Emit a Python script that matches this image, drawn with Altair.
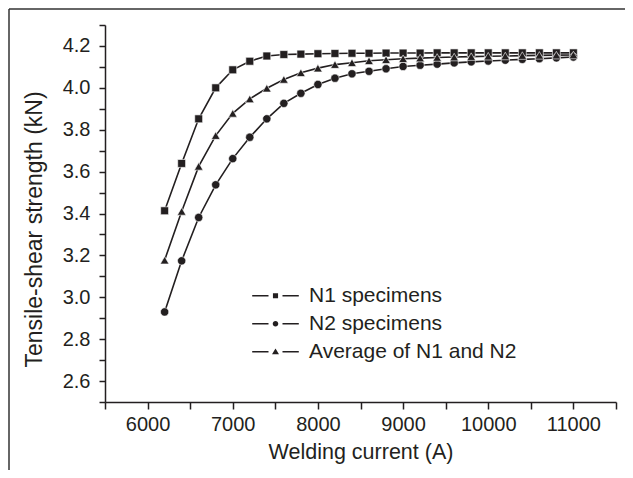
import altair as alt
import pandas as pd

# ---- data ----
currents = [6200, 6400, 6600, 6800, 7000, 7200, 7400, 7600, 7800, 8000,
            8200, 8400, 8600, 8800, 9000, 9200, 9400, 9600, 9800, 10000,
            10200, 10400, 10600, 10800, 11000]

n1 = [3.413, 3.639, 3.852, 4.000, 4.086, 4.127, 4.152, 4.159, 4.161, 4.163,
      4.164, 4.165, 4.165, 4.166, 4.166, 4.166, 4.167, 4.167, 4.167, 4.167,
      4.167, 4.167, 4.167, 4.167, 4.167]

n2 = [2.930, 3.174, 3.381, 3.537, 3.662, 3.764, 3.852, 3.926, 3.974, 4.016,
      4.046, 4.067, 4.079, 4.091, 4.102, 4.108, 4.113, 4.119, 4.124, 4.128,
      4.132, 4.136, 4.139, 4.143, 4.147]

avg = [3.177, 3.410, 3.625, 3.772, 3.878, 3.947, 3.998, 4.040, 4.072, 4.094,
       4.111, 4.120, 4.129, 4.134, 4.139, 4.142, 4.145, 4.147, 4.149, 4.151,
       4.152, 4.154, 4.155, 4.156, 4.157]

series_names = ["N1 specimens", "N2 specimens", "Average of N1 and N2"]

x_ticks = [5500, 6000, 6500, 7000, 7500, 8000, 8500, 9000, 9500, 10000,
           10500, 11000, 11500]
y_ticks = [2.5, 2.6, 2.7, 2.8, 2.9, 3.0, 3.1, 3.2, 3.3, 3.4, 3.5, 3.6, 3.7,
           3.8, 3.9, 4.0, 4.1, 4.2, 4.3]

rows = []
for name, vals in zip(series_names, [n1, n2, avg]):
    for c, v in zip(currents, vals):
        rows.append({"current": c, "strength": v, "series": name})
df = pd.DataFrame(rows)

INK = "#231f20"
FONT = "Liberation Sans"
W, H = 511, 377
PAD = {"left": 97, "top": 17, "right": 9, "bottom": 68}

x = alt.X(
    "current:Q",
    scale=alt.Scale(domain=[5500, 11500], nice=False, zero=False),
    axis=alt.Axis(
        values=x_ticks,
        labelExpr="datum.value % 1000 == 0 ? format(datum.value, 'd') : ''",
        title="Welding current (A)",
        grid=False, tickSize=7, labelPadding=5, titlePadding=7,
    ),
)
y = alt.Y(
    "strength:Q",
    scale=alt.Scale(domain=[2.5, 4.3], nice=False, zero=False),
    axis=alt.Axis(
        values=y_ticks,
        labelExpr="round(datum.value * 10) % 2 == 0 ? format(datum.value, '.1f') : ''",
        title="Tensile-shear strength (kN)",
        grid=False, tickSize=6, labelPadding=9, titlePadding=16,
        titleFontSize=23, titleY=204,
    ),
)

lines = alt.Chart(df).mark_line(color=INK, strokeWidth=1.6).encode(
    x=x, y=y, detail="series:N"
)

points = alt.Chart(df).mark_point(
    filled=True, fill=INK, stroke="white", strokeWidth=0.6, opacity=1
).encode(
    x=x, y=y,
    shape=alt.Shape("series:N",
                    scale=alt.Scale(domain=series_names,
                                    range=["square", "circle", "triangle-up"]),
                    legend=None),
    size=alt.Size("series:N",
                  scale=alt.Scale(domain=series_names, range=[62, 76, 105]),
                  legend=None),
)

# legend symbols: dash - marker - dash, as custom unit-square SVG paths
legend_paths = [
    "M-1,-0.03L-0.3,-0.03L-0.3,0.03L-1,0.03Z"
    "M0.3,-0.03L1,-0.03L1,0.03L0.3,0.03Z"
    "M-0.11,-0.11L0.11,-0.11L0.11,0.11L-0.11,0.11Z",
    "M-1,-0.03L-0.3,-0.03L-0.3,0.03L-1,0.03Z"
    "M0.3,-0.03L1,-0.03L1,0.03L0.3,0.03Z"
    "M0.12,0A0.12,0.12 0 1,1 -0.12,0A0.12,0.12 0 1,1 0.12,0Z",
    "M-1,-0.03L-0.3,-0.03L-0.3,0.03L-1,0.03Z"
    "M0.3,-0.03L1,-0.03L1,0.03L0.3,0.03Z"
    "M0,-0.14L0.15,0.11L-0.15,0.11Z",
]

legend_layer = alt.Chart(df).transform_filter("false").mark_point(
    filled=True, fill=INK, opacity=1,
).encode(
    x=x, y=y,
    shape=alt.Shape(
        "series:N",
        scale=alt.Scale(domain=series_names, range=legend_paths),
        legend=alt.Legend(
            title=None, orient="none", legendX=147, legendY=257,
            symbolSize=2171, symbolStrokeWidth=0,
            symbolFillColor=INK,
            labelFontSize=21, labelFont=FONT, labelColor=INK,
            labelOffset=10, labelLimit=400,
            clipHeight=27.5, rowPadding=0, padding=0,
        ),
    ),
)

frame_top = alt.Chart(pd.DataFrame({"k": [0]})).mark_rule(
    color="#333333", strokeWidth=1.5
).encode(x=alt.value(-96), x2=alt.value(W + PAD["right"]), y=alt.value(-16))
frame_left = alt.Chart(pd.DataFrame({"k": [0]})).mark_rule(
    color="#333333", strokeWidth=1.5
).encode(x=alt.value(-96), y=alt.value(-16), y2=alt.value(H + PAD["bottom"]))

chart = alt.layer(lines, points, legend_layer, frame_top, frame_left).resolve_scale(
    shape="independent"
).properties(
    width=W, height=H,
    autosize=alt.AutoSizeParams(type="none"),
    padding=PAD,
    background="white",
).configure_view(stroke=None).configure_axis(
    domainColor=INK, domainWidth=1.5, tickColor=INK, tickWidth=1.5,
    labelColor=INK, titleColor=INK, labelFont=FONT, titleFont=FONT,
    labelFontSize=20, titleFontSize=21.5, titleFontWeight="normal",
)

chart.save("out.html", embed_options={"renderer": "svg", "actions": False})
